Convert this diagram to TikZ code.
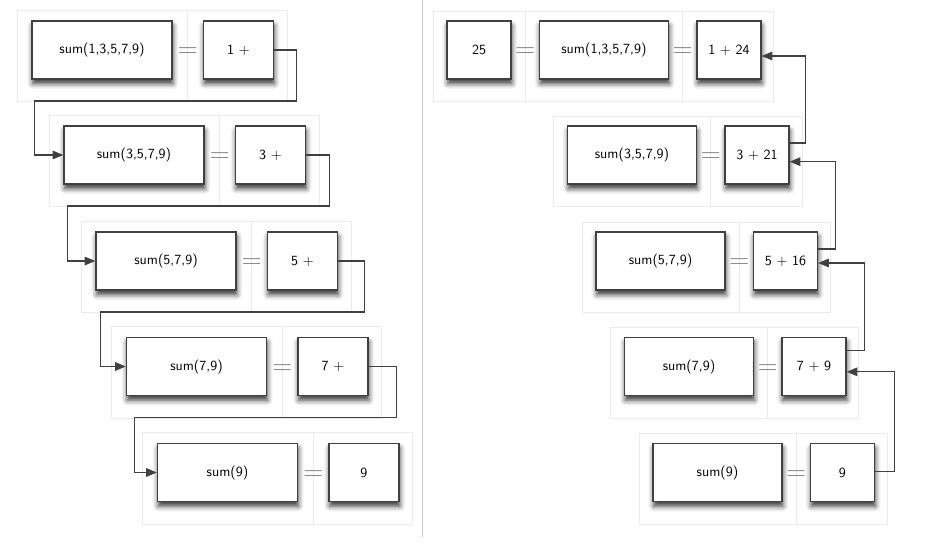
\documentclass[tikz,border=0pt]{standalone}
\usepackage{tikz}
\usetikzlibrary{arrows.meta,positioning,calc,shadows.blur,backgrounds}

\begin{document}
\begin{tikzpicture}[
  x=0.75pt, y=-0.75pt,
  box/.style={draw=black!75, line width=1.1pt, fill=white, minimum height=43.5pt, font=\sffamily\fontsize{10.5}{12}\selectfont,
    blur shadow={shadow xshift=0.6pt, shadow yshift=-3.5pt, shadow blur radius=4pt, shadow opacity=80}},
  sumbox/.style={box, minimum width=105pt},
  resbox/.style={box, minimum width=52.5pt},
  rsum/.style={box, minimum width=96.75pt},
  rres/.style={box, minimum width=48pt},
  eq/.style={text=black!50, font=\fontsize{20}{20}\selectfont, inner sep=0pt, yshift=-2pt},
  frame/.style={draw=black!8, line width=0.5pt},
  link/.style={draw=black!75, line width=0.8pt, -{Triangle[length=8pt,width=6.5pt]}}
]
\useasboundingbox (0,0) rectangle (935,543);

% left: going down
\node[sumbox] (s1) at (102,50) {sum(1,3,5,7,9)};
\node[resbox, right=22.5pt of s1] (r1) {1 +};
\node[eq] (e1) at ($(s1.east)!.5!(r1.west)$) {$=$};
\node[sumbox] (s2) at (134,155) {sum(3,5,7,9)};
\node[resbox, right=22.5pt of s2] (r2) {3 +};
\node[eq] (e2) at ($(s2.east)!.5!(r2.west)$) {$=$};
\node[sumbox] (s3) at (166,261) {sum(5,7,9)};
\node[resbox, right=22.5pt of s3] (r3) {5 +};
\node[eq] (e3) at ($(s3.east)!.5!(r3.west)$) {$=$};
\node[sumbox] (s4) at (196.5,366.5) {sum(7,9)};
\node[resbox, right=22.5pt of s4] (r4) {7 +};
\node[eq] (e4) at ($(s4.east)!.5!(r4.west)$) {$=$};
\node[sumbox] (s5) at (227.5,472.5) {sum(9)};
\node[resbox, right=22.5pt of s5] (r5) {9};
\node[eq] (e5) at ($(s5.east)!.5!(r5.west)$) {$=$};

\draw[link] (r1.east) -- ++(22,0) -- ++(0,51) -| ([xshift=-21.75pt]s2.west) -- (s2.west);
\draw[link] (r2.east) -- ++(23,0) -- ++(0,51) -| ([xshift=-21pt]s3.west) -- (s3.west);
\draw[link] (r3.east) -- ++(26,0) -- ++(0,51) -| ([xshift=-19pt]s4.west) -- (s4.west);
\draw[link] (r4.east) -- ++(28,0) -- ++(0,51) -| ([xshift=-16.5pt]s5.west) -- (s5.west);

\draw[black!20, line width=0.6pt] (422,0) -- (422,537);

% right: coming back up
\node[rres] (z) at (479,50) {25};
\node[rsum, right=20.25pt of z] (a1) {sum(1,3,5,7,9)};
\node[eq] (f0) at ($(z.east)!.5!(a1.west)$) {$=$};
\node[rres, right=20.25pt of a1] (b1) {1 + 24};
\node[eq] (f1) at ($(a1.east)!.5!(b1.west)$) {$=$};
\node[rsum] (a2) at (632,155) {sum(3,5,7,9)};
\node[rres, right=20.25pt of a2] (b2) {3 + 21};
\node[eq] (f2) at ($(a2.east)!.5!(b2.west)$) {$=$};
\node[rsum] (a3) at (660.5,261) {sum(5,7,9)};
\node[rres, right=20.25pt of a3] (b3) {5 + 16};
\node[eq] (f3) at ($(a3.east)!.5!(b3.west)$) {$=$};
\node[rsum] (a4) at (689,366.5) {sum(7,9)};
\node[rres, right=20.25pt of a4] (b4) {7 + 9};
\node[eq] (f4) at ($(a4.east)!.5!(b4.west)$) {$=$};
\node[rsum] (a5) at (717.5,472.5) {sum(9)};
\node[rres, right=20.25pt of a5] (b5) {9};
\node[eq] (f5) at ($(a5.east)!.5!(b5.west)$) {$=$};

\draw[link] ([yshift=9pt]b2.east) -- ++(16,0) |- ([yshift=-4.5pt]b1.east);
\draw[link] ([yshift=9pt]b3.east) -- ++(17,0) |- ([yshift=-5pt]b2.east);
\draw[link] ([yshift=12pt]b4.east) -- ++(18,0) |- ([yshift=-1.5pt]b3.east);
\draw[link] ([yshift=1pt]b5.east) -- ++(19,0) |- ([yshift=-4pt]b4.east);

% light frames behind each line
\begin{scope}[on background layer]
\draw[frame] ($(s1.north west)+(-14,-10)$) rectangle ($(e1 |- s1.south)+(0,22)$) rectangle ($(r1.north east)+(13,-10)$);
\draw[frame] ($(s2.north west)+(-14,-10)$) rectangle ($(e2 |- s2.south)+(0,22)$) rectangle ($(r2.north east)+(13,-10)$);
\draw[frame] ($(s3.north west)+(-14,-10)$) rectangle ($(e3 |- s3.south)+(0,22)$) rectangle ($(r3.north east)+(13,-10)$);
\draw[frame] ($(s4.north west)+(-14,-10)$) rectangle ($(e4 |- s4.south)+(0,22)$) rectangle ($(r4.north east)+(13,-10)$);
\draw[frame] ($(s5.north west)+(-14,-10)$) rectangle ($(e5 |- s5.south)+(0,22)$) rectangle ($(r5.north east)+(13,-10)$);
\draw[frame] ($(z.north west)+(-13,-9)$) rectangle ($(f0 |- z.south)+(0,22)$) rectangle ($(f1 |- a1.north)+(0,-9)$) rectangle ($(b1.south east)+(12,22)$);
\draw[frame] ($(a2.north west)+(-13,-9)$) rectangle ($(f2 |- a2.south)+(0,22)$) rectangle ($(b2.north east)+(13,-9)$);
\draw[frame] ($(a3.north west)+(-13,-9)$) rectangle ($(f3 |- a3.south)+(0,22)$) rectangle ($(b3.north east)+(12,-9)$);
\draw[frame] ($(a4.north west)+(-13,-9)$) rectangle ($(f4 |- a4.south)+(0,22)$) rectangle ($(b4.north east)+(12,-9)$);
\draw[frame] ($(a5.north west)+(-13,-9)$) rectangle ($(f5 |- a5.south)+(0,22)$) rectangle ($(b5.north east)+(12,-9)$);
\end{scope}
\end{tikzpicture}
\end{document}
